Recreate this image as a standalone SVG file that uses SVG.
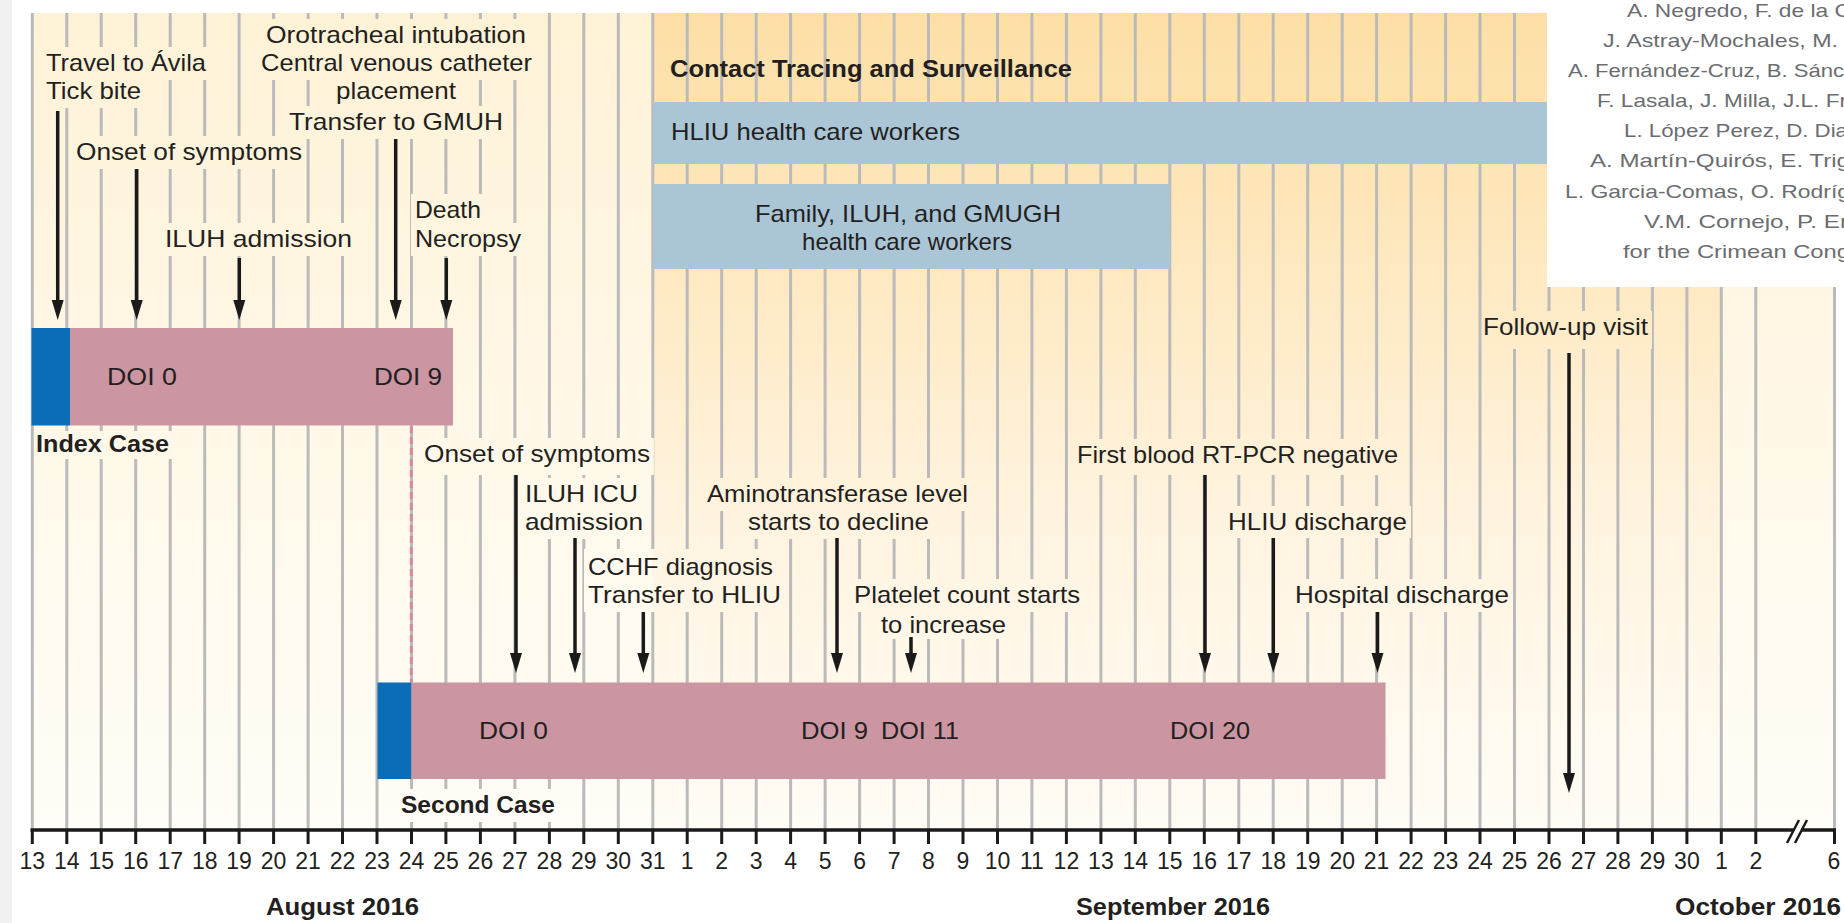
<svg xmlns="http://www.w3.org/2000/svg" width="1844" height="923" viewBox="0 0 1844 923">
<defs>
<style>
.lbl{font-family:"Liberation Sans",Arial,sans-serif;font-size:24px;fill:#231f20}
.bold{font-family:"Liberation Sans",Arial,sans-serif;font-size:24px;font-weight:bold;fill:#231f20}
.tk{font-family:"Liberation Sans",Arial,sans-serif;font-size:23px;fill:#231f20;text-anchor:middle}
.auth{font-family:"Liberation Sans",Arial,sans-serif;font-size:18.5px;fill:#6b6d70}
.arr{stroke:#1a1a1a;stroke-width:3.5;fill:none;marker-end:url(#ah)}
</style>
<linearGradient id="gL" x1="0" y1="0" x2="0" y2="1">
<stop offset="0" stop-color="#fef2d6"/><stop offset="0.5" stop-color="#fff8e8"/><stop offset="1" stop-color="#fffdf7"/>
</linearGradient>
<linearGradient id="gM" x1="0" y1="0" x2="0" y2="1">
<stop offset="0" stop-color="#fddfa6"/><stop offset="0.3" stop-color="#fee8bf"/><stop offset="0.6" stop-color="#fff3de"/><stop offset="1" stop-color="#fffcf6"/>
</linearGradient>
<marker id="ah" markerUnits="userSpaceOnUse" markerWidth="22" markerHeight="14" viewBox="0 -7 22 14" refX="8" refY="0" orient="auto">
<path d="M0,-6 L20,0 L0,6 Z" fill="#1a1a1a"/>
</marker>
<mask id="gm" maskUnits="userSpaceOnUse" x="0" y="0" width="1844" height="923">
<rect x="0" y="0" width="1844" height="923" fill="#fff"/>
<g fill="#000">
<rect x="42" y="47" width="168" height="33"/>
<rect x="42" y="75" width="103" height="33"/>
<rect x="72" y="136" width="234" height="33"/>
<rect x="161" y="223" width="195" height="33"/>
<rect x="262" y="19" width="268" height="33"/>
<rect x="257" y="47" width="279" height="33"/>
<rect x="332" y="75" width="128" height="33"/>
<rect x="285" y="106" width="222" height="33"/>
<rect x="411" y="194" width="74" height="33"/>
<rect x="411" y="223" width="114" height="33"/>
<rect x="420" y="438" width="234" height="37"/>
<rect x="521" y="478" width="121" height="33"/>
<rect x="521" y="506" width="126" height="33"/>
<rect x="584" y="549" width="193" height="35"/>
<rect x="584" y="579" width="201" height="33"/>
<rect x="703" y="478" width="269" height="33"/>
<rect x="744" y="506" width="189" height="33"/>
<rect x="850" y="579" width="234" height="33"/>
<rect x="877" y="609" width="133" height="30"/>
<rect x="1073" y="439" width="329" height="36"/>
<rect x="1224" y="506" width="187" height="32"/>
<rect x="1291" y="579" width="222" height="33"/>
<rect x="1482" y="311" width="170" height="38"/>
<rect x="34.5" y="431" width="138.5" height="28"/>
<rect x="397" y="789" width="162" height="33"/>
</g>
</mask>
</defs>

<rect x="0" y="0" width="1844" height="923" fill="#ffffff"/>
<rect x="0" y="0" width="12" height="923" fill="#f1f1f1"/>

<g id="background">
<rect x="31" y="13" width="622" height="817" fill="url(#gL)"/>
<rect x="653" y="13" width="1069" height="817" fill="url(#gM)"/>
<rect x="1722" y="13" width="114" height="817" fill="url(#gL)"/>
</g>

<g id="grid" mask="url(#gm)">
<path fill="none" stroke="#bababa" stroke-width="3" d="M32.3 13V830M66.8 13V830M101.2 13V830M135.7 13V830M170.2 13V830M204.7 13V830M239.1 13V830M273.6 13V830M308.1 13V830M342.5 13V830M377 13V830M411.5 13V830M445.9 13V830M480.4 13V830M514.9 13V830M549.4 13V830M583.8 13V830M618.3 13V830M652.8 13V830M687.2 13V830M721.7 13V830M756.2 13V830M790.6 13V830M825.1 13V830M859.6 13V830M894.1 13V830M928.5 13V830M963 13V830M997.5 13V830M1031.9 13V830M1066.4 13V830M1100.9 13V830M1135.3 13V830M1169.8 13V830M1204.3 13V830M1238.8 13V830M1273.2 13V830M1307.7 13V830M1342.2 13V830M1376.6 13V830M1411.1 13V830M1445.6 13V830M1480 13V830M1514.5 13V830M1549 13V830M1583.5 13V830M1617.9 13V830M1652.4 13V830M1686.9 13V830M1721.3 13V830M1755.8 13V830M1834.5 13V830"/>
</g>

<g id="contact-tracing">
<text class="bold" x="670" y="77" textLength="402" lengthAdjust="spacingAndGlyphs">Contact Tracing and Surveillance</text>
</g>
<g id="band-hliu">
<rect x="653" y="102" width="894" height="62" fill="#aac6d6"/>
<text class="lbl" x="671" y="140" textLength="289" lengthAdjust="spacingAndGlyphs">HLIU health care workers</text>
</g>
<g id="band-family">
<rect x="653" y="184" width="517" height="85" fill="#aac6d6"/>
<text class="lbl" x="755" y="222" textLength="306" lengthAdjust="spacingAndGlyphs">Family, ILUH, and GMUGH</text>
<text class="lbl" x="802" y="250" textLength="210" lengthAdjust="spacingAndGlyphs">health care workers</text>
</g>

<g id="index-case">
<rect x="31.5" y="328" width="38.5" height="97.5" fill="#0a6db5"/>
<rect x="70" y="328" width="383" height="97.5" fill="#cc95a2"/>
<text class="lbl" x="107" y="385" textLength="70" lengthAdjust="spacingAndGlyphs">DOI 0</text>
<text class="lbl" x="374" y="385" textLength="68" lengthAdjust="spacingAndGlyphs">DOI 9</text>
<text class="bold" x="36" y="452" textLength="133" lengthAdjust="spacingAndGlyphs">Index Case</text>
</g>

<g id="second-case">
<rect x="377.5" y="682.5" width="34" height="96.5" fill="#0a6db5"/>
<rect x="411.5" y="682.5" width="974" height="96.5" fill="#cc95a2"/>
<text class="lbl" x="479" y="739" textLength="69" lengthAdjust="spacingAndGlyphs">DOI 0</text>
<text class="lbl" x="801" y="739" textLength="67" lengthAdjust="spacingAndGlyphs">DOI 9</text>
<text class="lbl" x="881" y="739" textLength="78" lengthAdjust="spacingAndGlyphs">DOI 11</text>
<text class="lbl" x="1170" y="739" textLength="80" lengthAdjust="spacingAndGlyphs">DOI 20</text>
<text class="bold" x="401" y="813" textLength="154" lengthAdjust="spacingAndGlyphs">Second Case</text>
</g>

<g id="ev-travel"><text class="lbl" x="46" y="71" textLength="160" lengthAdjust="spacingAndGlyphs">Travel to Ávila</text><text class="lbl" x="46" y="99" textLength="95" lengthAdjust="spacingAndGlyphs">Tick bite</text></g>
<g id="ev-onset1"><text class="lbl" x="76" y="160" textLength="226" lengthAdjust="spacingAndGlyphs">Onset of symptoms</text></g>
<g id="ev-iluh1"><text class="lbl" x="165" y="247" textLength="187" lengthAdjust="spacingAndGlyphs">ILUH admission</text></g>
<g id="ev-transfer-gmuh">
<text class="lbl" x="266" y="43" textLength="260" lengthAdjust="spacingAndGlyphs">Orotracheal intubation</text>
<text class="lbl" x="261" y="71" textLength="271" lengthAdjust="spacingAndGlyphs">Central venous catheter</text>
<text class="lbl" x="336" y="99" textLength="120" lengthAdjust="spacingAndGlyphs">placement</text>
<text class="lbl" x="289" y="130" textLength="214" lengthAdjust="spacingAndGlyphs">Transfer to GMUH</text>
</g>
<g id="ev-death"><text class="lbl" x="415" y="218" textLength="66" lengthAdjust="spacingAndGlyphs">Death</text><text class="lbl" x="415" y="247" textLength="106" lengthAdjust="spacingAndGlyphs">Necropsy</text></g>

<g id="ev-onset2"><text class="lbl" x="424" y="462" textLength="226" lengthAdjust="spacingAndGlyphs">Onset of symptoms</text></g>
<g id="ev-icu"><text class="lbl" x="525" y="502" textLength="113" lengthAdjust="spacingAndGlyphs">ILUH ICU</text><text class="lbl" x="525" y="530" textLength="118" lengthAdjust="spacingAndGlyphs">admission</text></g>
<g id="ev-cchf"><text class="lbl" x="588" y="575" textLength="185" lengthAdjust="spacingAndGlyphs">CCHF diagnosis</text><text class="lbl" x="588" y="603" textLength="193" lengthAdjust="spacingAndGlyphs">Transfer to HLIU</text></g>
<g id="ev-amino"><text class="lbl" x="707" y="502" textLength="261" lengthAdjust="spacingAndGlyphs">Aminotransferase level</text><text class="lbl" x="748" y="530" textLength="181" lengthAdjust="spacingAndGlyphs">starts to decline</text></g>
<g id="ev-platelet"><text class="lbl" x="854" y="603" textLength="226" lengthAdjust="spacingAndGlyphs">Platelet count starts</text><text class="lbl" x="881" y="633" textLength="125" lengthAdjust="spacingAndGlyphs">to increase</text></g>
<g id="ev-pcr"><text class="lbl" x="1077" y="463" textLength="321" lengthAdjust="spacingAndGlyphs">First blood RT-PCR negative</text></g>
<g id="ev-hliu-discharge"><text class="lbl" x="1228" y="530" textLength="179" lengthAdjust="spacingAndGlyphs">HLIU discharge</text></g>
<g id="ev-hospital-discharge"><text class="lbl" x="1295" y="603" textLength="214" lengthAdjust="spacingAndGlyphs">Hospital discharge</text></g>
<g id="ev-followup"><text class="lbl" x="1483" y="335" textLength="165" lengthAdjust="spacingAndGlyphs">Follow-up visit</text></g>

<g id="connectors">
<line class="arr" x1="57.7" y1="111" x2="57.7" y2="308"/>
<line class="arr" x1="136.7" y1="169" x2="136.7" y2="308"/>
<line class="arr" x1="239.3" y1="258" x2="239.3" y2="308"/>
<line class="arr" x1="395.7" y1="139" x2="395.7" y2="308"/>
<line class="arr" x1="446.3" y1="258" x2="446.3" y2="308"/>
<line class="arr" x1="516" y1="475" x2="516" y2="661"/>
<line class="arr" x1="575" y1="538" x2="575" y2="661"/>
<line class="arr" x1="643.3" y1="612" x2="643.3" y2="661"/>
<line class="arr" x1="837" y1="538" x2="837" y2="661"/>
<line class="arr" x1="911" y1="637" x2="911" y2="661"/>
<line class="arr" x1="1205" y1="475" x2="1205" y2="661"/>
<line class="arr" x1="1273.3" y1="538" x2="1273.3" y2="661"/>
<line class="arr" x1="1377.5" y1="612" x2="1377.5" y2="661"/>
<line class="arr" x1="1569" y1="353" x2="1569" y2="781"/>
<line x1="411.3" y1="426" x2="411.3" y2="682" stroke="#d98a9d" stroke-width="3" stroke-dasharray="7 4"/>
</g>

<g id="axis">
<path fill="none" stroke="#1a1a1a" stroke-width="3.5" d="M30.5 830H1793M1801 830H1836"/>
<path fill="none" stroke="#1a1a1a" stroke-width="2.5" d="M1787 843L1799 820M1795 843L1807 820"/>
<path fill="none" stroke="#1a1a1a" stroke-width="3" d="M32.3 830V844M66.8 830V844M101.2 830V844M135.7 830V844M170.2 830V844M204.7 830V844M239.1 830V844M273.6 830V844M308.1 830V844M342.5 830V844M377 830V844M411.5 830V844M445.9 830V844M480.4 830V844M514.9 830V844M549.4 830V844M583.8 830V844M618.3 830V844M652.8 830V844M687.2 830V844M721.7 830V844M756.2 830V844M790.6 830V844M825.1 830V844M859.6 830V844M894.1 830V844M928.5 830V844M963 830V844M997.5 830V844M1031.9 830V844M1066.4 830V844M1100.9 830V844M1135.3 830V844M1169.8 830V844M1204.3 830V844M1238.8 830V844M1273.2 830V844M1307.7 830V844M1342.2 830V844M1376.6 830V844M1411.1 830V844M1445.6 830V844M1480 830V844M1514.5 830V844M1549 830V844M1583.5 830V844M1617.9 830V844M1652.4 830V844M1686.9 830V844M1721.3 830V844M1755.8 830V844M1834.5 830V844"/>
<g>
<text class="tk" x="32.3" y="869">13</text><text class="tk" x="66.8" y="869">14</text><text class="tk" x="101.2" y="869">15</text><text class="tk" x="135.7" y="869">16</text><text class="tk" x="170.2" y="869">17</text><text class="tk" x="204.7" y="869">18</text><text class="tk" x="239.1" y="869">19</text><text class="tk" x="273.6" y="869">20</text><text class="tk" x="308.1" y="869">21</text><text class="tk" x="342.5" y="869">22</text><text class="tk" x="377" y="869">23</text><text class="tk" x="411.5" y="869">24</text><text class="tk" x="445.9" y="869">25</text><text class="tk" x="480.4" y="869">26</text><text class="tk" x="514.9" y="869">27</text><text class="tk" x="549.4" y="869">28</text><text class="tk" x="583.8" y="869">29</text><text class="tk" x="618.3" y="869">30</text><text class="tk" x="652.8" y="869">31</text>
<text class="tk" x="687.2" y="869">1</text><text class="tk" x="721.7" y="869">2</text><text class="tk" x="756.2" y="869">3</text><text class="tk" x="790.6" y="869">4</text><text class="tk" x="825.1" y="869">5</text><text class="tk" x="859.6" y="869">6</text><text class="tk" x="894.1" y="869">7</text><text class="tk" x="928.5" y="869">8</text><text class="tk" x="963" y="869">9</text><text class="tk" x="997.5" y="869">10</text><text class="tk" x="1031.9" y="869">11</text><text class="tk" x="1066.4" y="869">12</text><text class="tk" x="1100.9" y="869">13</text><text class="tk" x="1135.3" y="869">14</text><text class="tk" x="1169.8" y="869">15</text><text class="tk" x="1204.3" y="869">16</text><text class="tk" x="1238.8" y="869">17</text><text class="tk" x="1273.2" y="869">18</text><text class="tk" x="1307.7" y="869">19</text><text class="tk" x="1342.2" y="869">20</text><text class="tk" x="1376.6" y="869">21</text><text class="tk" x="1411.1" y="869">22</text><text class="tk" x="1445.6" y="869">23</text><text class="tk" x="1480" y="869">24</text><text class="tk" x="1514.5" y="869">25</text><text class="tk" x="1549" y="869">26</text><text class="tk" x="1583.5" y="869">27</text><text class="tk" x="1617.9" y="869">28</text><text class="tk" x="1652.4" y="869">29</text><text class="tk" x="1686.9" y="869">30</text>
<text class="tk" x="1721.3" y="869">1</text><text class="tk" x="1755.8" y="869">2</text><text class="tk" x="1834" y="869">6</text>
</g>
<text class="bold" x="266" y="915" textLength="153" lengthAdjust="spacingAndGlyphs" style="font-size:23px">August 2016</text>
<text class="bold" x="1076" y="915" textLength="194" lengthAdjust="spacingAndGlyphs" style="font-size:23px">September 2016</text>
<text class="bold" x="1675" y="915" textLength="166" lengthAdjust="spacingAndGlyphs" style="font-size:23px">October 2016</text>
</g>

<g id="authors">
<rect x="1547" y="0" width="297" height="287" fill="#ffffff"/>
<text class="auth" x="1627" y="17" textLength="224" lengthAdjust="spacingAndGlyphs">A. Negredo, F. de la C</text>
<text class="auth" x="1603" y="46.8" textLength="235" lengthAdjust="spacingAndGlyphs">J. Astray-Mochales, M.</text>
<text class="auth" x="1568" y="76.8" textLength="276" lengthAdjust="spacingAndGlyphs">A. Fernández-Cruz, B. Sánc</text>
<text class="auth" x="1597" y="107" textLength="250" lengthAdjust="spacingAndGlyphs">F. Lasala, J. Milla, J.L. Fr</text>
<text class="auth" x="1624" y="137.2" textLength="224" lengthAdjust="spacingAndGlyphs">L. López Perez, D. Dia</text>
<text class="auth" x="1590" y="167.4" textLength="260" lengthAdjust="spacingAndGlyphs">A. Martín-Quirós, E. Trig</text>
<text class="auth" x="1565" y="197.6" textLength="285" lengthAdjust="spacingAndGlyphs">L. Garcia-Comas, O. Rodríg</text>
<text class="auth" x="1644" y="227.8" textLength="204" lengthAdjust="spacingAndGlyphs">V.M. Cornejo, P. Er</text>
<text class="auth" x="1623" y="258" textLength="227" lengthAdjust="spacingAndGlyphs">for the Crimean Cong</text>
</g>
</svg>
